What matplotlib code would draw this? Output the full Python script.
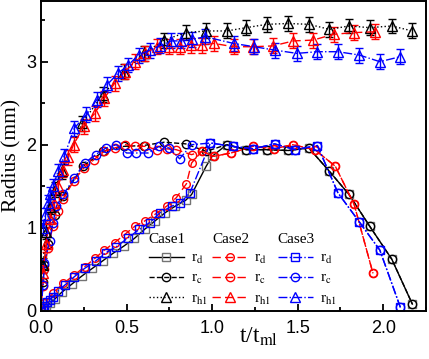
import matplotlib
matplotlib.use("Agg")
import matplotlib.pyplot as plt

# --- Case1 (black) ---
c1_rd_t = [0.0, 0.015, 0.03, 0.05, 0.08, 0.12, 0.18, 0.24, 0.30, 0.36, 0.42, 0.485, 0.545, 0.605, 0.665,
           0.725, 0.785, 0.845, 0.88, 0.965, 1.0, 1.085, 1.20, 1.32, 1.445, 1.565, 1.685, 1.80, 1.92, 2.05, 2.17]
c1_rd = [0.0, 0.03, 0.06, 0.09, 0.14, 0.22, 0.32, 0.42, 0.51, 0.60, 0.69, 0.78, 0.87, 0.98, 1.08,
         1.18, 1.26, 1.33, 1.40, 1.74, 1.86, 2.0, 1.94, 1.94, 1.93, 1.96, 1.68, 1.40, 1.02, 0.62, 0.08]
c1_rc_t = [0.0, 0.01, 0.02, 0.04, 0.08, 0.13, 0.245, 0.365, 0.485, 0.60, 0.72, 0.845, 0.965, 1.085,
           1.20, 1.32, 1.445, 1.565, 1.685, 1.80, 1.92, 2.05, 2.17]
c1_rc = [0.0, 0.35, 0.55, 0.8, 1.15, 1.38, 1.74, 1.92, 1.98, 1.99, 2.03, 2.01, 1.92, 2.0,
         1.94, 1.94, 1.93, 1.96, 1.68, 1.40, 1.02, 0.62, 0.08]
c1_rh_t = [0.01, 0.03, 0.05, 0.08, 0.12, 0.24, 0.36, 0.485, 0.60, 0.72, 0.845, 0.965, 1.085, 1.20,
           1.32, 1.445, 1.565, 1.685, 1.80, 1.92, 2.05, 2.17]
c1_rh = [0.55, 0.95, 1.25, 1.46, 1.68, 2.26, 2.60, 2.88, 3.10, 3.26, 3.35, 3.37, 3.37, 3.41,
         3.45, 3.46, 3.45, 3.39, 3.43, 3.41, 3.43, 3.37]

# --- Case2 (red) ---
c2_rd_t = [0.0, 0.02, 0.07, 0.13, 0.195, 0.255, 0.315, 0.37, 0.43, 0.49, 0.55, 0.605, 0.665, 0.735,
           0.79, 0.85, 0.88, 0.94, 1.01, 1.11, 1.24, 1.36, 1.47, 1.60, 1.72, 1.83, 1.94]
c2_rd = [0.0, 0.09, 0.21, 0.33, 0.43, 0.53, 0.63, 0.73, 0.82, 0.92, 1.02, 1.08, 1.16, 1.26,
         1.36, 1.53, 1.78, 1.92, 1.86, 1.90, 1.98, 1.95, 2.0, 1.94, 1.74, 1.28, 0.45]
c2_rc_t = [0.0, 0.01, 0.02, 0.04, 0.07, 0.10, 0.13, 0.19, 0.25, 0.31, 0.37, 0.43, 0.49, 0.55, 0.61,
           0.675, 0.735, 0.79, 0.88, 0.94, 1.01, 1.11, 1.24, 1.36, 1.47, 1.60, 1.72, 1.83, 1.94]
c2_rc = [0.0, 0.3, 0.5, 0.75, 1.02, 1.2, 1.35, 1.56, 1.72, 1.82, 1.92, 1.96, 2.0, 1.98, 1.98,
         1.94, 1.95, 1.94, 1.88, 1.92, 1.86, 1.90, 1.98, 1.95, 2.0, 1.94, 1.74, 1.28, 0.45]
c2_rh_t = [0.01, 0.03, 0.05, 0.075, 0.10, 0.13, 0.16, 0.19, 0.25, 0.315, 0.37, 0.43, 0.49, 0.55, 0.61,
           0.675, 0.75, 0.81, 0.875, 0.94, 1.01, 1.125, 1.24, 1.355, 1.475, 1.59, 1.71, 1.83, 1.95]
c2_rh = [0.45, 0.8, 1.1, 1.3, 1.5, 1.7, 1.85, 2.0, 2.22, 2.38, 2.56, 2.74, 2.88, 3.0, 3.1,
         3.18, 3.18, 3.18, 3.2, 3.2, 3.22, 3.18, 3.18, 3.19, 3.25, 3.26, 3.33, 3.35, 3.36]

# --- Case3 (blue) ---
c3_rd_t = [0.0, 0.01, 0.02, 0.035, 0.05, 0.07, 0.10, 0.14, 0.195, 0.255, 0.32, 0.38, 0.44, 0.51, 0.575,
           0.635, 0.695, 0.765, 0.815, 0.87, 0.99, 1.12, 1.24, 1.365, 1.485, 1.615, 1.735, 1.86, 1.98, 2.10]
c3_rd = [0.0, 0.03, 0.06, 0.10, 0.13, 0.17, 0.24, 0.31, 0.41, 0.51, 0.60, 0.70, 0.77, 0.88, 0.98,
         1.06, 1.18, 1.26, 1.30, 1.42, 2.02, 1.98, 1.95, 2.01, 1.94, 1.99, 1.42, 1.07, 0.73, 0.04]
c3_rc_t = [0.0, 0.012, 0.02, 0.05, 0.07, 0.09, 0.13, 0.195, 0.255, 0.32, 0.38, 0.44, 0.50, 0.555, 0.625,
           0.69, 0.75, 0.81, 0.88, 0.99, 1.12, 1.24, 1.365, 1.485, 1.615, 1.735, 1.86, 1.98, 2.10]
c3_rc = [0.0, 0.31, 0.57, 0.84, 1.06, 1.26, 1.40, 1.60, 1.78, 1.88, 1.96, 2.0, 1.90, 1.90, 1.90,
         1.98, 1.96, 1.83, 2.0, 2.02, 1.98, 1.95, 2.01, 1.94, 1.99, 1.42, 1.07, 0.73, 0.04]
c3_rh_t = [0.01, 0.025, 0.04, 0.055, 0.07, 0.10, 0.135, 0.195, 0.265, 0.325, 0.385, 0.45, 0.51, 0.57, 0.635,
           0.695, 0.76, 0.82, 0.885, 0.96, 1.125, 1.245, 1.365, 1.495, 1.615, 1.735, 1.86, 1.98, 2.10]
c3_rh = [1.0, 1.15, 1.3, 1.4, 1.5, 1.68, 1.86, 2.2, 2.36, 2.54, 2.72, 2.86, 2.96, 3.08, 3.14,
         3.19, 3.25, 3.25, 3.27, 3.3, 3.22, 3.18, 3.14, 3.10, 3.12, 3.12, 3.08, 3.0, 3.06]

rh_err = 0.09
labels = ["r$_{\\rm d}$", "r$_{\\rm c}$", "r$_{\\rm h1}$"]

plt.rcParams["mathtext.fontset"] = "stix"
plt.rcParams["font.family"] = "Liberation Sans"

fig = plt.figure(figsize=(4.29, 3.59), dpi=100)
ax = fig.add_axes([0.0956, 0.1345, 0.8975, 0.8625])

ms = 5.5
lw = 1.0

cases = [
    ("Case1", "black", ["-", "--", ":"], ["s", "o", "^"],
     (c1_rd_t, c1_rd), (c1_rc_t, c1_rc), (c1_rh_t, c1_rh)),
    ("Case2", "red", [(0, (6, 3)), (0, (6, 3)), (0, (6, 3))], ["o", "o", "^"],
     (c2_rd_t, c2_rd), (c2_rc_t, c2_rc), (c2_rh_t, c2_rh)),
    ("Case3", "blue", ["-.", "-.", "-."], ["s", "o", "^"],
     (c3_rd_t, c3_rd), (c3_rc_t, c3_rc), (c3_rh_t, c3_rh)),
]

legend_x = [0.26, 0.425, 0.595]
legends = []
for i, (name, color, styles, markers, rd, rc, rh) in enumerate(cases):
    mec_rd = "0.45" if color == "black" else color
    h_rd, = ax.plot(rd[0], rd[1], color=color, ls=styles[0], lw=lw, marker=markers[0],
                    ms=ms, mfc="none", mec=mec_rd, mew=1.0)
    h_rc, = ax.plot(rc[0], rc[1], color=color, ls=styles[1], lw=lw, marker=markers[1],
                    ms=ms + 0.5, mfc="none", mec=color, mew=1.0)
    cont = ax.errorbar(rh[0], rh[1], yerr=rh_err, color=color, ls=styles[2], lw=lw,
                       marker=markers[2], ms=ms + 1, mfc="none", mec=color, mew=1.0,
                       capsize=3, elinewidth=1.0, capthick=1.0)
    leg = ax.legend([h_rd, h_rc, cont[0]], labels, title=name, loc="upper left",
                    bbox_to_anchor=(legend_x[i], 0.275), frameon=False, numpoints=1,
                    handlelength=2.3, handletextpad=0.45, labelspacing=0.35,
                    borderpad=0.0, alignment="left",
                    prop={"family": "Liberation Serif", "size": 11},
                    title_fontproperties={"family": "Liberation Serif", "size": 11})
    legends.append(leg)
for leg in legends[:-1]:
    ax.add_artist(leg)

ax.set_xlim(0, 2.245)
ax.set_ylim(0, 3.73)
ax.set_xticks([0.0, 0.5, 1.0, 1.5, 2.0])
ax.set_xticks([0.25, 0.75, 1.25, 1.75, 2.25], minor=True)
ax.set_yticks([0, 1, 2, 3])
ax.set_yticks([0.5, 1.5, 2.5, 3.5], minor=True)
ax.set_xticklabels(["0.0", "0.5", "1.0", "1.5", "2.0"])
ax.tick_params(which="both", direction="in", labelsize=13, width=1.3)
ax.tick_params(which="major", length=5)
ax.tick_params(which="minor", length=3)
ax.tick_params(axis="x", pad=7)
for s in ax.spines.values():
    s.set_linewidth(1.4)

ax.set_xlabel("t/t$_{\\rm ml}$", fontsize=17, family="Liberation Serif")
ax.set_ylabel("Radius (mm)", fontsize=15.5, family="Liberation Serif")
ax.xaxis.set_label_coords(0.564, -0.05)
ax.yaxis.set_label_coords(-0.05, 0.5)

fig.savefig("out.png", dpi=100)
